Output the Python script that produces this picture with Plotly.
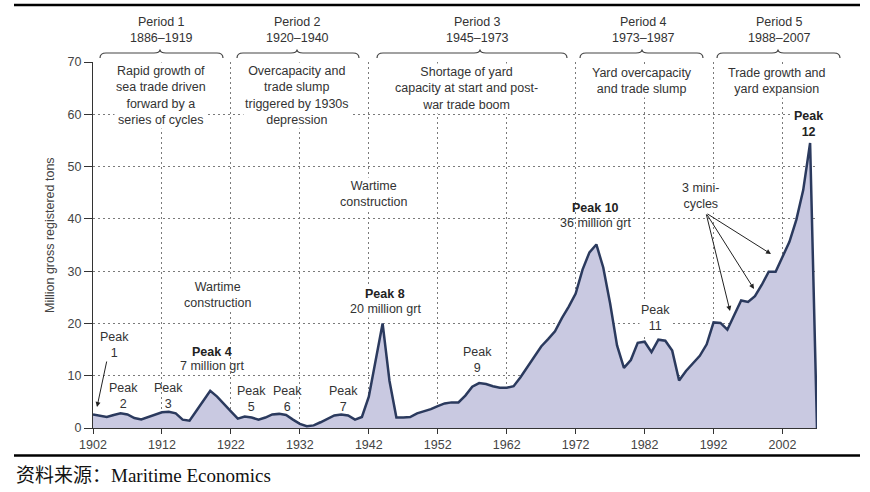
import plotly.graph_objects as go

# ---------------- data ----------------
years = list(range(1902, 2008))
tonnage = [
    2.6, 2.4, 2.1, 2.5, 2.8, 2.6, 1.9, 1.65, 2.1, 2.7,      # 1902-1911
    3.0, 3.1, 2.8, 1.6, 1.4, 3.3, 5.2, 7.1, 6.0, 4.5,       # 1912-1921
    3.2, 1.8, 2.2, 2.0, 1.6, 2.0, 2.6, 2.7, 2.5, 1.6,       # 1922-1931
    0.8, 0.35, 0.5, 1.1, 1.8, 2.4, 2.6, 2.4, 1.6, 2.1,      # 1932-1941
    6.0, 13.0, 20.0, 9.0, 2.0, 2.0, 2.1, 2.8, 3.2, 3.6,     # 1942-1951
    4.2, 4.7, 4.9, 4.9, 6.2, 7.9, 8.6, 8.4, 8.0, 7.7,       # 1952-1961
    7.7, 8.0, 9.7, 11.7, 13.7, 15.6, 17.0, 18.5, 21.0, 23.2,  # 1962-1971
    25.7, 30.3, 33.6, 35.1, 30.7, 23.8, 15.8, 11.5, 13.0, 16.3,  # 1972-1981
    16.5, 14.5, 16.9, 16.7, 14.8, 9.1, 10.9, 12.3, 13.8, 16.0,  # 1982-1991
    20.2, 20.1, 18.8, 21.6, 24.4, 24.1, 25.2, 27.4, 29.9, 29.9,  # 1992-2001
    32.8, 35.6, 39.8, 45.5, 54.5, 0.0,                       # 2002-2007
]
x_ticks = [1902, 1912, 1922, 1932, 1942, 1952, 1962, 1972, 1982, 1992, 2002]
y_ticks = [0, 10, 20, 30, 40, 50, 60, 70]

period_names = ["Period 1", "Period 2", "Period 3", "Period 4", "Period 5"]
period_years = ["1886–1919", "1920–1940", "1945–1973", "1973–1987", "1988–2007"]
period_desc = [
    "Rapid growth of<br>sea trade driven<br>forward by a<br>series of cycles",
    "Overcapacity and<br>trade slump<br>triggered by 1930s<br>depression",
    "Shortage of yard<br>capacity at start and post-<br>war trade boom",
    "Yard overcapacity<br>and trade slump",
    "Trade growth and<br>yard expansion",
]
y_title = "Million gross registered tons"
source_text = "资料来源：Maritime Economics"

# ---------------- layout geometry (pixels) ----------------
W, H = 870, 492
L, R, T, B = 93, 53, 62, 64
PW, PH = W - L - R, H - T - B


def X(px):
    return (px - L) / PW


def Y(py):
    return (H - B - py) / PH


SANS = "Liberation Sans, Arial, Helvetica, sans-serif"
TXT = "#333333"

fig = go.Figure()
fig.add_trace(go.Scatter(
    x=years, y=tonnage, mode="lines",
    fill="tozeroy", fillcolor="#c9c9e1",
    line=dict(color="#2b3a5e", width=2.5),
    hoverinfo="x+y", showlegend=False,
))

annotations = []
shapes = []


def text(px, py, s, size=12.5, bold=False, bg=True, xanchor="center", color=TXT, angle=0, family=SANS):
    annotations.append(dict(
        xref="paper", yref="paper", x=X(px), y=Y(py), text=("<b>%s</b>" % s) if bold else s,
        showarrow=False, xanchor=xanchor, yanchor="middle", textangle=angle,
        font=dict(family=family, size=size, color=color),
        bgcolor="white" if bg else "rgba(0,0,0,0)", borderpad=1,
    ))


def arrow(tx, ty, hx, hy):
    annotations.append(dict(
        xref="paper", yref="paper", x=X(hx), y=Y(hy), ax=tx - hx, ay=ty - hy,
        axref="pixel", ayref="pixel", text="", showarrow=True,
        arrowhead=2, arrowsize=1, arrowwidth=1, arrowcolor="#222222",
    ))


# period headers
period_centers = [161, 297, 477, 643, 779]
brace_spans = [(100, 223, 160), (237, 359, 297), (377, 567, 480), (580, 703, 642), (717, 840, 778)]
desc_centers = [161, 297, 467, 642, 777]
desc_tops = 73
for i in range(5):
    text(period_centers[i], 22, period_names[i], bg=False)
    text(period_centers[i], 38, period_years[i], bg=False)
    n_lines = period_desc[i].count("<br>") + 1
    text(desc_centers[i], desc_tops + (n_lines - 1) * 15.3 / 2, period_desc[i])
    x1, x2, xm = brace_spans[i]
    yb, ym, yt, r = 58, 53, 49.5, 6
    path = ("M {a},{b} Q {a},{c} {d},{c} L {e},{c} Q {f},{c} {f},{g} "
            "Q {f},{c} {h},{c} L {i},{c} Q {j},{c} {j},{b}").format(
        a=X(x1), b=Y(yb), c=Y(ym), d=X(x1 + r), e=X(xm - r), f=X(xm), g=Y(yt),
        h=X(xm + r), i=X(x2 - r), j=X(x2))
    shapes.append(dict(type="path", xref="paper", yref="paper", path=path,
                       line=dict(color="#444444", width=1.2)))

# other labels
text(217, 295, "Wartime<br>construction")
text(373, 194, "Wartime<br>construction")
text(385, 294, "Peak 8", bold=True, color="#222222")
text(385, 309, "20 million grt")
text(595, 208, "Peak 10", bold=True, color="#222222", bg=False)
text(595, 223, "36 million grt", bg=False)
text(701, 196, "3 mini-<br>cycles")
text(808, 124, "Peak<br>12", bold=True, color="#222222")
text(655, 318, "Peak<br>11")
text(478, 360, "Peak<br>9", bg=False)
text(343, 399, "Peak<br>7", bg=False)
text(287, 399, "Peak<br>6", bg=False)
text(251, 399, "Peak<br>5", bg=False)
text(212, 352, "Peak 4", bold=True, color="#222222", bg=False)
text(212, 366, "7 million grt", bg=False)
text(168, 396, "Peak<br>3", bg=False)
text(123, 396, "Peak<br>2", bg=False)
text(114, 345, "Peak<br>1")
arrow(107, 360, 97, 407)
for hx, hy in [(730, 311), (754, 289), (771, 254)]:
    arrow(706, 213, hx, hy)

# axis title
text(50, 235, y_title, size=12.5, bg=False, angle=-90, color="#444444")
# source
text(14, 475, source_text, size=19, bg=False, xanchor="left", color="#111111",
     family="Liberation Serif, Times New Roman, Noto Sans CJK SC, serif")

# thick horizontal rules
for py in (5, 455.5):
    shapes.append(dict(type="line", xref="paper", yref="paper", x0=X(14), x1=X(860),
                       y0=Y(py), y1=Y(py), line=dict(color="black", width=2.5)))

axis_common = dict(
    showline=True, linecolor="#333333", linewidth=1.2,
    ticks="outside", tickcolor="#333333", tickwidth=1.2,
    showgrid=True, gridcolor="#7a7a7a", gridwidth=1, griddash="2px,3px",
    zeroline=False, tickfont=dict(family=SANS, size=12.5, color="#444444"),
)

fig.update_layout(
    width=W, height=H,
    margin=dict(l=L, r=R, t=T, b=B, pad=0),
    paper_bgcolor="white", plot_bgcolor="white",
    xaxis=dict(range=[1902, 2007], tickvals=x_ticks, ticklen=5, **axis_common),
    yaxis=dict(range=[0, 70], tickvals=y_ticks, ticklen=8, **axis_common),
    annotations=annotations, shapes=shapes,
    showlegend=False,
)

fig.write_html("out.html")
